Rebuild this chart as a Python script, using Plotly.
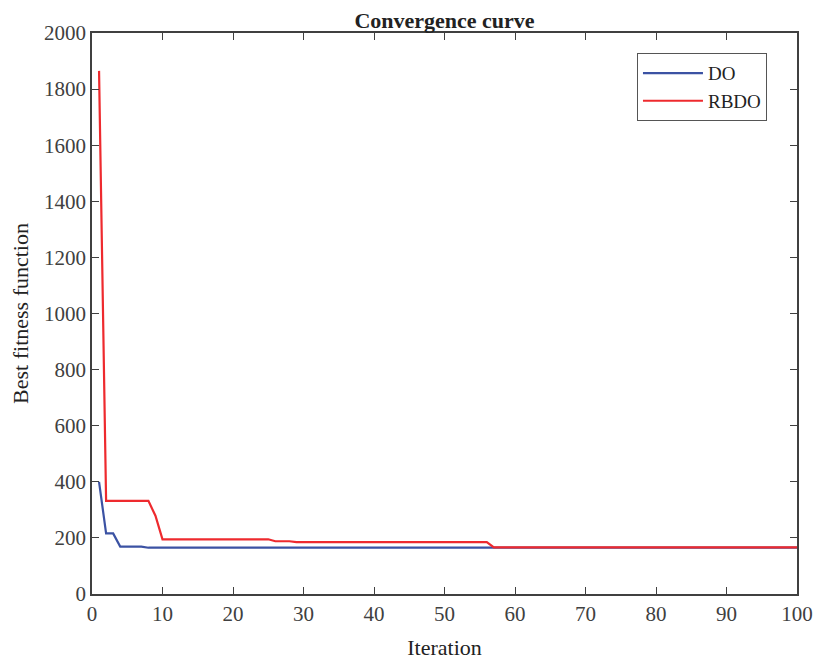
import plotly.graph_objects as go

iterations = list(range(1, 101))

do_values = [
    400, 216, 216, 169, 169, 169, 169, 165, 165, 165,
    165, 165, 165, 165, 165, 165, 165, 165, 165, 165,
    165, 165, 165, 165, 165, 165, 165, 165, 165, 165,
    165, 165, 165, 165, 165, 165, 165, 165, 165, 165,
    165, 165, 165, 165, 165, 165, 165, 165, 165, 165,
    165, 165, 165, 165, 165, 165, 165, 165, 165, 165,
    165, 165, 165, 165, 165, 165, 165, 165, 165, 165,
    165, 165, 165, 165, 165, 165, 165, 165, 165, 165,
    165, 165, 165, 165, 165, 165, 165, 165, 165, 165,
    165, 165, 165, 165, 165, 165, 165, 165, 165, 165,
]

rbdo_values = [
    1865, 332, 332, 332, 332, 332, 332, 332, 279, 195,
    195, 195, 195, 195, 195, 195, 195, 195, 195, 195,
    195, 195, 195, 195, 195, 188, 188, 188, 185, 185,
    185, 185, 185, 185, 185, 185, 185, 185, 185, 185,
    185, 185, 185, 185, 185, 185, 185, 185, 185, 185,
    185, 185, 185, 185, 185, 185, 166, 166, 166, 166,
    166, 166, 166, 166, 166, 166, 166, 166, 166, 166,
    166, 166, 166, 166, 166, 166, 166, 166, 166, 166,
    166, 166, 166, 166, 166, 166, 166, 166, 166, 166,
    166, 166, 166, 166, 166, 166, 166, 166, 166, 166,
]

x_ticks = [0, 10, 20, 30, 40, 50, 60, 70, 80, 90, 100]
y_ticks = [0, 200, 400, 600, 800, 1000, 1200, 1400, 1600, 1800, 2000]

FONT = "Liberation Serif, Times New Roman, serif"
AX = "#404040"

fig = go.Figure()
fig.add_trace(go.Scatter(x=iterations, y=do_values, mode="lines", name="DO",
                         line=dict(color="#3b52a3", width=2.2)))
fig.add_trace(go.Scatter(x=iterations, y=rbdo_values, mode="lines", name="RBDO",
                         line=dict(color="#ee2a2e", width=2.2)))

axis_common = dict(showline=True, linecolor=AX, linewidth=1.6, mirror="ticks",
                   ticks="inside", ticklen=7, tickcolor=AX, tickwidth=1.2,
                   showgrid=False, zeroline=False, automargin=False,
                   tickfont=dict(family=FONT, size=21, color=AX))

fig.update_layout(
    width=805, height=652,
    paper_bgcolor="white", plot_bgcolor="white",
    margin=dict(l=84, r=16, t=25, b=66),
    title=dict(text="<b>Convergence curve</b>", x=0.5, xanchor="center",
               xref="paper", y=1, yref="paper", yanchor="bottom", pad=dict(b=5),
               font=dict(family=FONT, size=22, color="#222222")),
    xaxis=dict(range=[0, 100], tickvals=x_ticks,
               title=dict(text="Iteration", font=dict(family=FONT, size=22, color="#222222"), standoff=15),
               **axis_common),
    yaxis=dict(range=[0, 2000], tickvals=y_ticks,
               title=dict(text="Best fitness function", font=dict(family=FONT, size=22, color="#222222"), standoff=10),
               **axis_common),
    legend=dict(x=0.773, y=0.964, xanchor="left", yanchor="top",
                bordercolor="#555555", borderwidth=1, bgcolor="white",
                font=dict(family=FONT, size=19, color="#222222"),
                tracegroupgap=0, itemwidth=60),
    showlegend=True,
)

fig.write_html("out.html")
